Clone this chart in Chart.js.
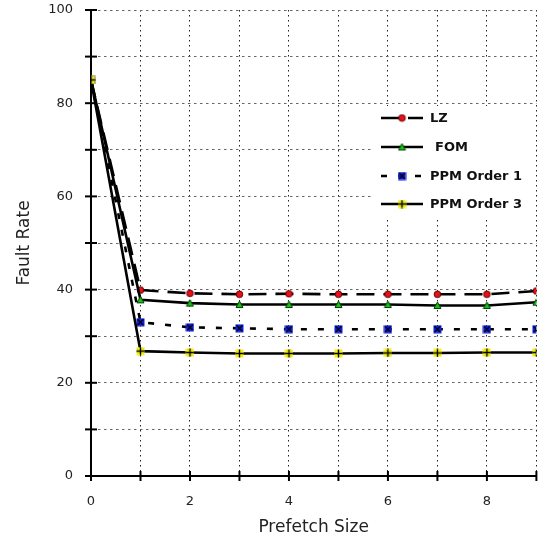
<!DOCTYPE html>
<html>
<head>
<meta charset="utf-8">
<script src="https://cdn.jsdelivr.net/npm/chart.js@4/dist/chart.umd.min.js"></script>
<style>
  html, body { margin: 0; padding: 0; background: #fff; }
  #wrap { width: 543px; height: 538px; }
</style>
</head>
<body>
<div id="wrap"><canvas id="chart"></canvas></div>
<script>
// values
const prefetch = [0, 1, 2, 3, 4, 5, 6, 7, 8, 9];
const lz = [85, 39.9, 39.2, 39.0, 39.1, 39.0, 39.0, 39.0, 39.0, 39.7];
const fom = [85, 37.8, 37.1, 36.8, 36.8, 36.8, 36.8, 36.6, 36.6, 37.3];
const ppm1 = [85, 33.0, 31.9, 31.7, 31.5, 31.5, 31.5, 31.5, 31.5, 31.5];
const ppm3 = [85, 26.8, 26.5, 26.3, 26.3, 26.3, 26.4, 26.4, 26.5, 26.5];
const seriesNames = ["LZ", "FOM", "PPM Order 1", "PPM Order 3"];

// little marker pictures
function marker(kind) {
  const c = document.createElement("canvas");
  c.width = 9; c.height = 9;
  const g = c.getContext("2d");
  if (kind == "circle") {
    g.fillStyle = "#e8101a";
    g.strokeStyle = "#600";
    g.lineWidth = 1;
    g.beginPath(); g.arc(4.5, 4.5, 3.3, 0, Math.PI * 2); g.fill(); g.stroke();
  } else if (kind == "tri") {
    g.fillStyle = "#16c216";
    g.strokeStyle = "#040";
    g.lineWidth = 1;
    g.beginPath(); g.moveTo(4.5, 1); g.lineTo(8, 7.5); g.lineTo(1, 7.5); g.closePath(); g.fill(); g.stroke();
  } else if (kind == "x") {
    g.fillStyle = "#1020e0";
    g.fillRect(0.5, 0.5, 8, 8);
    g.strokeStyle = "#000";
    g.lineWidth = 1.2;
    g.beginPath(); g.moveTo(1.5, 1.5); g.lineTo(7.5, 7.5); g.moveTo(7.5, 1.5); g.lineTo(1.5, 7.5); g.stroke();
  } else {
    g.fillStyle = "#f2ef10";
    g.fillRect(0.5, 0.5, 8, 8);
    g.strokeStyle = "#000";
    g.lineWidth = 1.4;
    g.beginPath(); g.moveTo(4.5, 0.5); g.lineTo(4.5, 8.5); g.moveTo(0.5, 4.5); g.lineTo(8.5, 4.5); g.stroke();
  }
  return c;
}

const dashes = [[18, 9], [], [6, 11], []];
const marks = [marker("circle"), marker("tri"), marker("x"), marker("plus")];
const values = [lz, fom, ppm1, ppm3];

const sets = values.map((v, i) => ({
  label: seriesNames[i],
  data: v.map((y, k) => ({ x: prefetch[k], y: y })),
  borderColor: "#000",
  borderWidth: 2.6,
  borderDash: dashes[i],
  pointStyle: marks[i],
  pointRadius: 4,
  tension: 0,
  order: 4 - i,
}));

const legendBox = {
  id: "legendBox",
  afterDraw(chart) {
    const ctx = chart.ctx;
    ctx.save();
    ctx.fillStyle = "#fff";
    ctx.fillRect(372, 106, 164, 114);
    const rows = [118, 147, 176, 204];
    rows.forEach((y, i) => {
      ctx.strokeStyle = "#000";
      ctx.lineWidth = 2.6;
      ctx.setLineDash(dashes[i]);
      ctx.beginPath(); ctx.moveTo(381, y); ctx.lineTo(423, y); ctx.stroke();
      ctx.setLineDash([]);
      ctx.drawImage(marks[i], 402 - 4.5, y - 4.5);
      ctx.fillStyle = "#111";
      ctx.font = "bold 13px 'DejaVu Sans'";
      ctx.textBaseline = "middle";
      ctx.fillText(seriesNames[i], i == 1 ? 435 : 430, y + 1);
    });
    ctx.restore();
  },
};

// ticks that cross the axis lines
const crossTicks = {
  id: "crossTicks",
  afterDraw(chart) {
    const ctx = chart.ctx;
    const xs = chart.scales.x, ys = chart.scales.y;
    const x0 = xs.getPixelForValue(0), y0 = ys.getPixelForValue(0);
    ctx.save();
    ctx.strokeStyle = "#000";
    ctx.lineWidth = 2;
    ys.ticks.forEach((t) => {
      const p = ys.getPixelForValue(t.value);
      ctx.beginPath(); ctx.moveTo(x0 - 6, p); ctx.lineTo(x0 + 6, p); ctx.stroke();
    });
    xs.ticks.forEach((t) => {
      const p = xs.getPixelForValue(t.value);
      ctx.beginPath(); ctx.moveTo(p, y0 - 5); ctx.lineTo(p, y0 + 5); ctx.stroke();
    });
    ctx.restore();
  },
};

new Chart(document.getElementById("chart"), {
  type: "line",
  data: { datasets: sets },
  options: {
    responsive: true,
    maintainAspectRatio: false,
    animation: false,
    layout: { padding: { top: 10, right: 2, left: 0, bottom: 0 } },
    plugins: { legend: { display: false }, tooltip: { enabled: false } },
    scales: {
      x: {
        type: "linear",
        min: 0,
        max: 9,
        afterFit: (s) => { s.height = 62; },
        ticks: {
          stepSize: 1,
          padding: 0,
          color: "#222",
          font: { family: "DejaVu Sans", size: 13 },
          callback: (v) => (v % 2 == 0 ? v : ""),
          maxRotation: 0,
          autoSkip: false,
        },
        grid: { color: "#222", lineWidth: 1, drawTicks: true, tickLength: 18, tickColor: "rgba(0,0,0,0)" },
        border: { color: "#000", width: 2, dash: [1.5, 3.5] },
        title: {
          display: true,
          text: "Prefetch Size",
          color: "#222",
          font: { family: "DejaVu Sans", size: 17 },
          padding: { top: 0, bottom: 0 },
        },
      },
      y: {
        min: 0,
        max: 100,
        afterFit: (s) => { s.width = 91; },
        ticks: {
          stepSize: 10,
          padding: 0,
          color: "#222",
          font: { family: "DejaVu Sans", size: 13 },
          callback: (v) => (v % 20 == 0 ? v : ""),
        },
        grid: { color: "#666", lineWidth: 1, drawTicks: true, tickLength: 18, tickColor: "rgba(0,0,0,0)" },
        border: { color: "#000", width: 2, dash: [2.5, 3.5] },
        title: {
          display: true,
          text: "Fault Rate",
          color: "#222",
          font: { family: "DejaVu Sans", size: 17 },
          padding: { top: 14, bottom: 0 },
        },
      },
    },
  },
  plugins: [legendBox, crossTicks],
});
</script>
</body>
</html>
